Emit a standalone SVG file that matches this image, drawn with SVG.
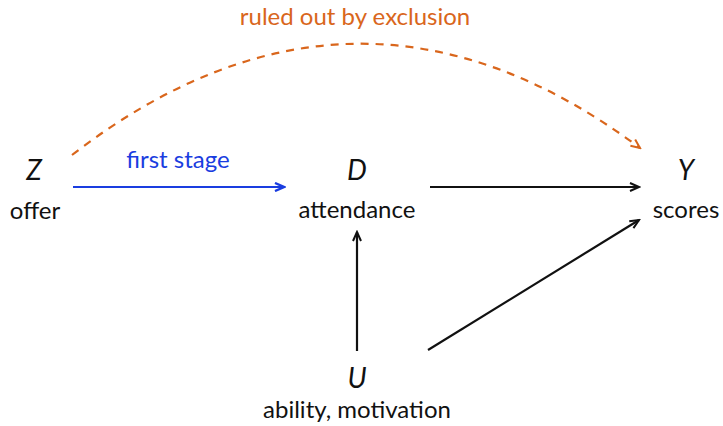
<svg xmlns="http://www.w3.org/2000/svg" width="723" height="426" viewBox="0 0 723 426">
<style>
.v{font-family:Lato,"Liberation Sans",sans-serif;font-style:italic;font-size:28px;fill:#111;text-anchor:middle}
.l{font-family:Lato,"Liberation Sans",sans-serif;font-size:24px;fill:#111;text-anchor:middle}
.e{fill:none;stroke-width:2.2}
</style>
<defs>
<marker id="ak" markerWidth="12" markerHeight="10" refX="10" refY="5" orient="auto" markerUnits="userSpaceOnUse"><path d="M1,1 L10,5 L1,9" fill="none" stroke="#111" stroke-width="2"/></marker>
<marker id="ab" markerWidth="12" markerHeight="10" refX="10" refY="5" orient="auto" markerUnits="userSpaceOnUse"><path d="M1,1 L10,5 L1,9" fill="none" stroke="#1a3de0" stroke-width="2.4"/></marker>
<marker id="ao" markerWidth="12" markerHeight="10" refX="10" refY="5" orient="auto" markerUnits="userSpaceOnUse"><path d="M1,1 L10,5 L1,9" fill="none" stroke="#d9661c" stroke-width="2"/></marker>
</defs>
<rect width="723" height="426" fill="#fff"/>
<g id="Z"><text class="v" x="34" y="180">Z</text><text class="l" x="35" y="219">offer</text></g>
<g id="D"><text class="v" x="357" y="180">D</text><text class="l" x="357" y="218">attendance</text></g>
<g id="Y"><text class="v" x="686" y="180">Y</text><text class="l" x="686" y="218">scores</text></g>
<g id="U"><text class="v" x="357" y="388">U</text><text class="l" x="357" y="418">ability, motivation</text></g>
<g id="connectors">
<line class="e" x1="73" y1="187" x2="284" y2="187" stroke="#1a3de0" stroke-width="3" marker-end="url(#ab)"/>
<text x="178" y="168" font-family="Lato,'Liberation Sans',sans-serif" font-size="24" fill="#1a3de0" text-anchor="middle">first stage</text>
<line class="e" x1="430" y1="187" x2="639" y2="187" stroke="#111" marker-end="url(#ak)"/>
<line class="e" x1="357" y1="351" x2="357" y2="232" stroke="#111" marker-end="url(#ak)"/>
<line class="e" x1="428" y1="350" x2="639" y2="220" stroke="#111" marker-end="url(#ak)"/>
<path class="e" d="M72,155 Q356,-64 640,148" stroke="#d9661c" stroke-dasharray="8,7" marker-end="url(#ao)"/>
<text x="355" y="25" font-family="Lato,'Liberation Sans',sans-serif" font-size="24" fill="#d9661c" text-anchor="middle">ruled out by exclusion</text>
</g>
</svg>
